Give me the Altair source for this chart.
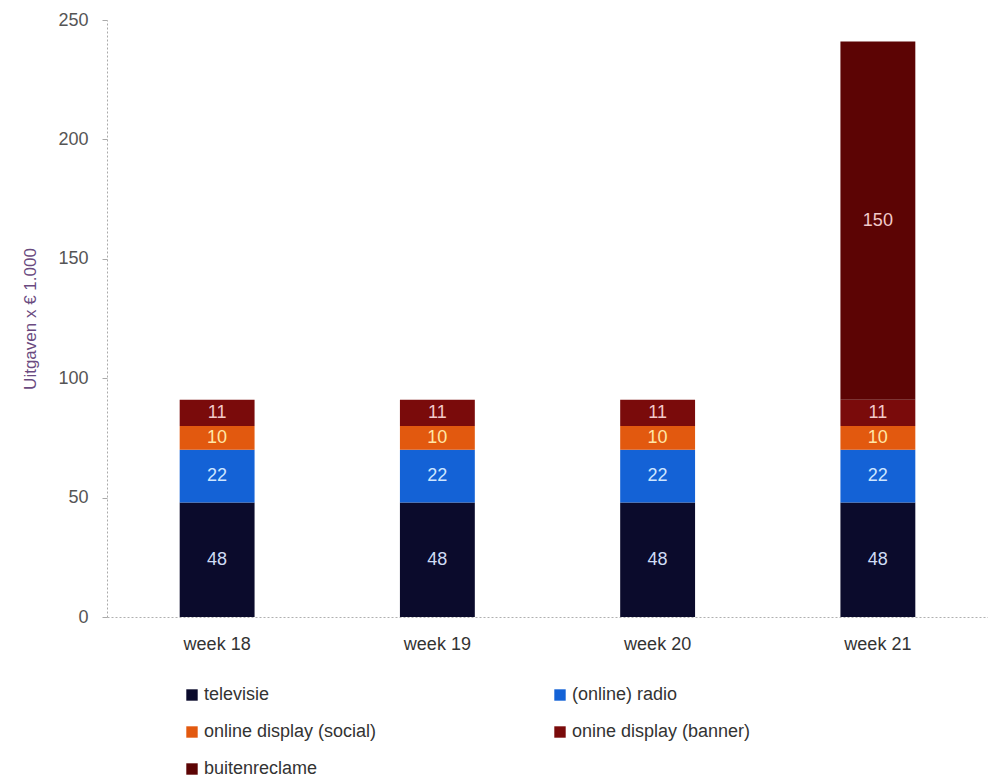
import altair as alt
import pandas as pd

weeks = ["week 18", "week 19", "week 20", "week 21"]
series = ["televisie", "(online) radio", "online display (social)", "onine display (banner)", "buitenreclame"]
televisie = [48, 48, 48, 48]
radio = [22, 22, 22, 22]
social = [10, 10, 10, 10]
banner = [11, 11, 11, 11]
buiten = [0, 0, 0, 150]

colors = ["#0b0b2c", "#1462d6", "#e2590f", "#7a0b0b", "#5c0404"]
label_colors = ["#cfdcf5", "#cfe6ff", "#ffe7a6", "#f2c9c9", "#f2c9c9"]

values = [televisie, radio, social, banner, buiten]
rows = []
for si, (name, vals) in enumerate(zip(series, values)):
    for w, v in zip(weeks, vals):
        rows.append({"week": w, "serie": name, "value": v, "order": si,
                     "lc": label_colors[si]})
df = pd.DataFrame(rows)

base = alt.Chart(df).transform_stack(
    stack="value", groupby=["week"], as_=["y0", "y1"], sort=[{"field": "order"}]
).transform_calculate(mid="(datum.y0 + datum.y1) / 2")

x = alt.X("week:N", sort=weeks, title=None,
          scale=alt.Scale(paddingInner=0.66, paddingOuter=0.33),
          axis=alt.Axis(labelAngle=0, labelFontSize=18, labelColor="#333333",
                        labelPadding=18, ticks=False, domainColor="#b0b0b0",
                        domainDash=[2, 2], labelFont="Liberation Sans"))

bars = base.mark_bar().encode(
    x=x,
    y=alt.Y("y0:Q", title="Uitgaven x € 1.000",
            scale=alt.Scale(domain=[0, 250], nice=False),
            axis=alt.Axis(values=[0, 50, 100, 150, 200, 250], grid=False,
                          labelFontSize=18, labelColor="#555555", labelPadding=14,
                          tickSize=5, tickColor="#aaaaaa", domainColor="#aaaaaa",
                          domainDash=[2, 2], titleFontSize=17, titleColor="#6a4a80",
                          titleFontWeight="normal", titlePadding=18,
                          labelFont="Liberation Sans", titleFont="Liberation Sans")),
    y2="y1:Q",
    color=alt.Color("serie:N", scale=alt.Scale(domain=series, range=colors),
                    sort=series,
                    legend=alt.Legend(title=None, orient="none", legendX=76, legendY=666,
                                      direction="horizontal",
                                      columns=2, columnPadding=174, rowPadding=19,
                                      symbolType="square", symbolSize=130,
                                      symbolStrokeWidth=0, labelFontSize=18,
                                      labelColor="#333333", labelOffset=3,
                                      labelLimit=400,
                                      labelFont="Liberation Sans")),
    order=alt.Order("order:Q"),
)

texts = base.transform_filter("datum.value > 0").mark_text(
    fontSize=18, font="Liberation Sans"
).encode(
    x=alt.X("week:N", sort=weeks),
    y=alt.Y("mid:Q"),
    text=alt.Text("value:Q"),
    color=alt.Color("lc:N", scale=None),
)

chart = alt.layer(bars, texts).properties(
    width=881, height=597,
    autosize=alt.AutoSizeParams(type="none"),
    padding={"left": 99, "top": 12, "right": 0, "bottom": 160},
).configure_view(stroke=None)

chart.save("out.html", embed_options={"renderer": "svg", "actions": False})
